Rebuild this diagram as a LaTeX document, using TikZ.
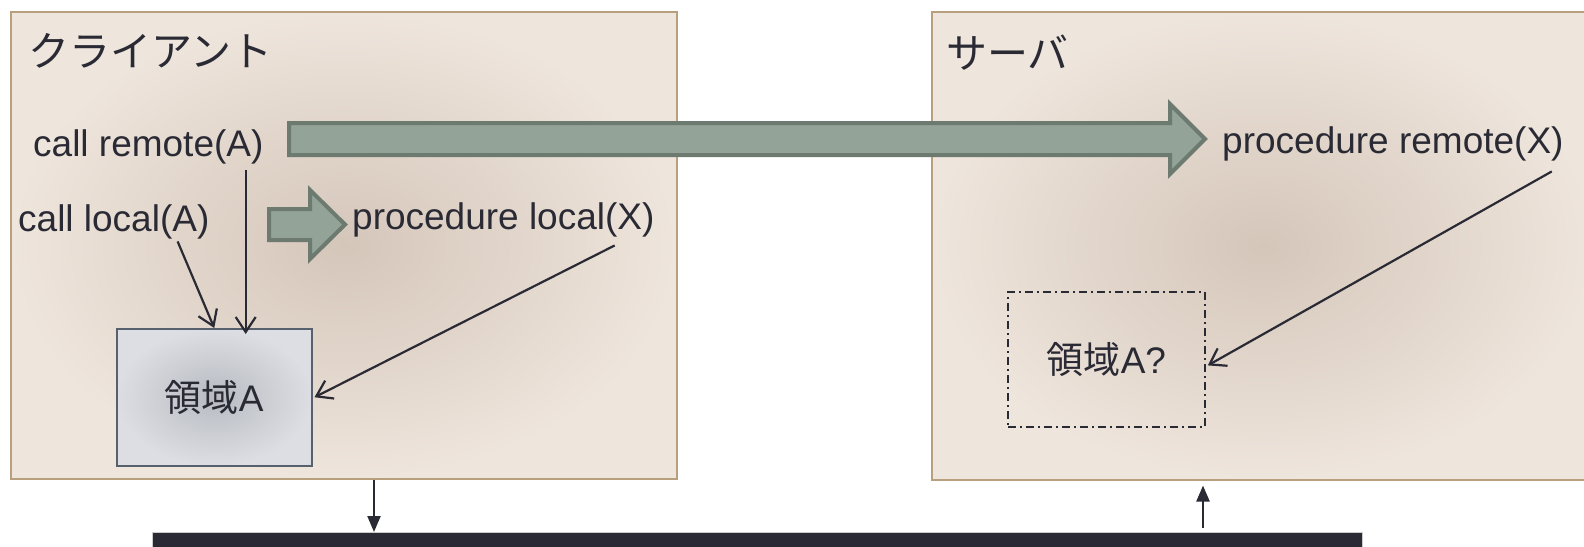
\documentclass[tikz,border=0pt]{standalone}
\usepackage{fontspec}
\setmainfont{Liberation Sans}
\newfontfamily\jpfont{Noto Sans CJK JP}
\usetikzlibrary{positioning,arrows.meta,calc}

\definecolor{inkdark}{HTML}{2A2A35}
\definecolor{panelborder}{HTML}{B89F7E}
\definecolor{panelin}{HTML}{D5C6BA}
\definecolor{panelout}{HTML}{EEE5DC}
\definecolor{memin}{HTML}{B7BBC1}
\definecolor{memout}{HTML}{DDDEE3}
\definecolor{memborder}{HTML}{56616D}
\definecolor{fatfill}{HTML}{93A398}
\definecolor{fatborder}{HTML}{6C7A6F}

\tikzset{
  panel/.style={draw=panelborder, line width=1.5pt, inner color=panelin, outer color=panelout, inner sep=0pt, anchor=north west},
  membox/.style={draw=memborder, line width=1.5pt, inner color=memin, outer color=memout, inner sep=0pt, anchor=north west},
  guessbox/.style={draw=inkdark, line width=1.8pt, dash pattern=on 8pt off 4pt on 2pt off 4pt, inner sep=0pt, anchor=north west},
  label/.style={font=\fontsize{37}{44}\selectfont, inner sep=0pt, anchor=west},
  heading/.style={font=\jpfont\fontsize{41}{48}\selectfont, inner sep=0pt, anchor=west},
  fatarrow/.style={fill=fatfill, draw=fatborder, line width=4pt, line join=miter},
  callarrow/.style={line width=2.2pt, -{Straight Barb[length=15pt,width=20pt]}},
  busarrow/.style={line width=2.2pt, -{Triangle[length=16pt,width=13pt]}},
}

\begin{document}
\begin{tikzpicture}[x=1pt, y=-1pt, color=inkdark]
  \useasboundingbox (0,0) rectangle (1584,546);

  % machines
  \node[panel, minimum width=666pt, minimum height=467pt] (client) at (10,11) {};
  \node[panel, minimum width=662pt, minimum height=468pt] (server) at (931,11) {};
  \node[heading] (clienttitle) at (28,51) {クライアント};
  \node[heading] (servertitle) at (946,53) {サーバ};

  % memory
  \node[membox, minimum width=195pt, minimum height=137pt] (areaA) at (116,328) {};
  \node[font=\fontsize{37}{44}\selectfont] at (areaA.center) {{\jpfont 領域}A};
  \node[guessbox, minimum width=197pt, minimum height=135pt] (areaQ) at (1007,291) {};
  \node[font=\fontsize{37}{44}\selectfont] at (areaQ.center) {{\jpfont 領域}A?};

  % texts
  \node[label] (callremote) at (33,147) {call remote(A)};
  \node[label] (calllocal) at (18,222) {call local(A)};
  \node[label] (proclocal) at (352,220) {procedure local(X)};
  \node[label] (procremote) at (1222,144) {procedure remote(X)};

  % fat arrows
  \draw[fatarrow] (289,123) -- (1170,123) -- (1170,104) -- (1205,139) -- (1170,174) -- (1170,155) -- (289,155) -- cycle;
  \draw[fatarrow] (269,209) -- (310,209) -- (310,190) -- (345,224.5) -- (310,259) -- (310,240) -- (269,240) -- cycle;

  % calls
  \draw[callarrow] ([shift={(-18pt,-6pt)}]callremote.south east) -- ([shift={(-18pt,-6pt)}]callremote.south east |- areaA.north);
  \draw[callarrow] ([shift={(-32pt,-2pt)}]calllocal.south east) -- (areaA.north);
  \draw[callarrow] ([shift={(-40pt,-8pt)}]proclocal.south east) -- ([xshift=2pt]areaA.east);
  \draw[callarrow] ([shift={(-12pt,-10pt)}]procremote.south east) -- ([shift={(2pt,-6pt)}]areaQ.east);

  % network
  \node[fill=inkdark, draw=gray!40, line width=0.8pt, inner sep=0pt, anchor=north west, minimum width=1210pt, minimum height=24pt] (network) at (152,532) {};
  \coordinate (downlink) at (374,0);
  \coordinate (uplink) at (1203,0);
  \draw[busarrow] (client.south -| downlink) -- (network.north -| downlink);
  \draw[busarrow, shorten <=4pt, shorten >=5pt] (network.north -| uplink) -- (server.south -| uplink);
\end{tikzpicture}
\end{document}
